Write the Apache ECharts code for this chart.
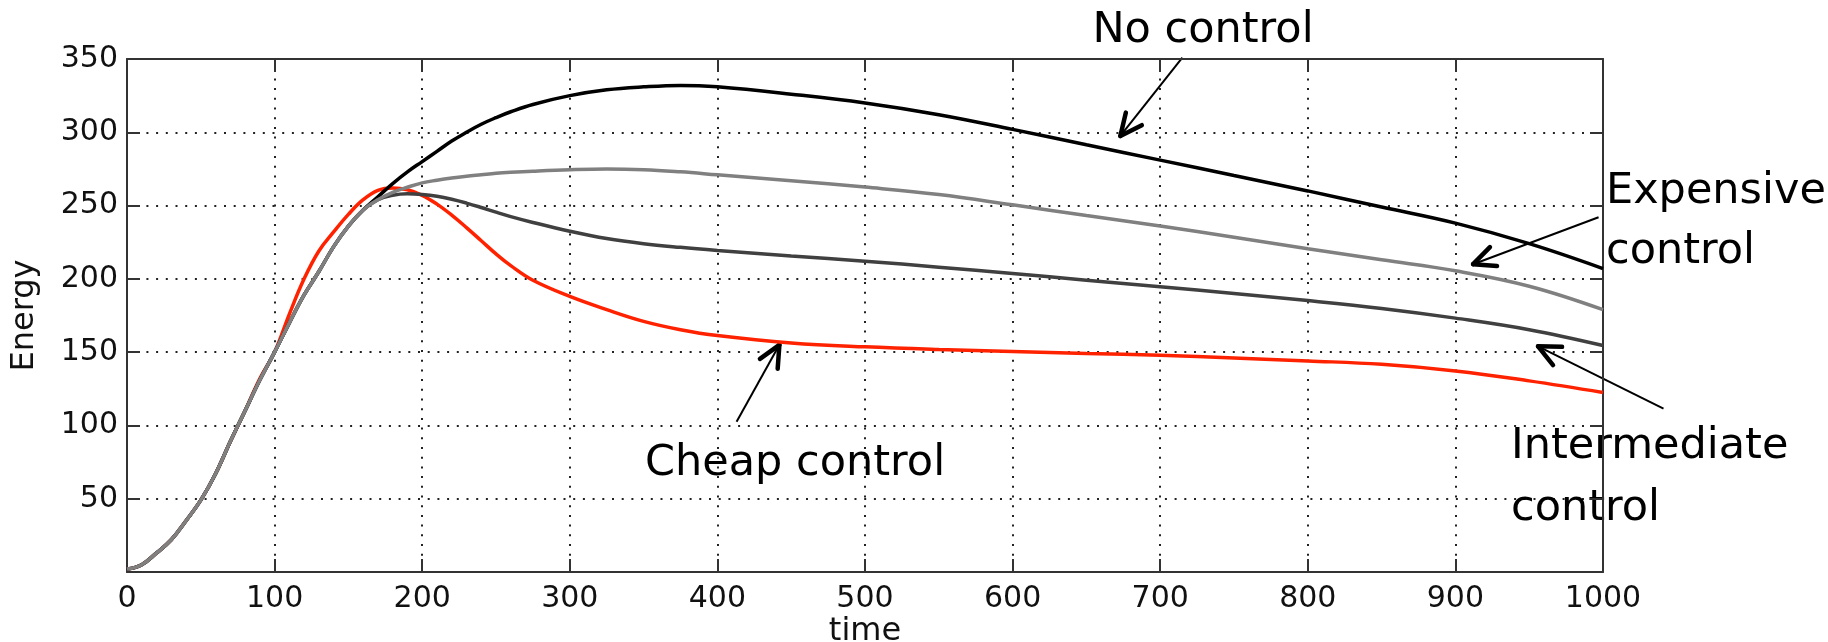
<!DOCTYPE html>
<html lang="en">
<head>
    <meta charset="UTF-8">
    <title>Energy vs time</title>
    <script src="https://cdn.jsdelivr.net/npm/echarts@6/dist/echarts.min.js"></script>
    <style>
        html, body { margin: 0; padding: 0; background: #fff; }
        #main { width: 1828px; height: 642px; }
    </style>
</head>
<body>
<div id="main"></div>
<script>
    // time samples shared by all curves
    var times = [0, 10, 20, 30, 40, 50, 60, 70, 80, 90, 100, 110, 120, 130, 140, 150, 160, 170, 180, 190, 200,
        210, 220, 230, 240, 250, 260, 275, 300, 325, 350, 375, 400, 450, 500, 550, 600, 650, 700, 750, 800, 850, 900, 950, 1000];

    var noControl = [2, 5, 13, 22, 35, 49, 67, 89, 110, 131, 150, 170, 189, 205, 222, 236, 247, 256, 265, 273, 280,
        287, 294, 300, 305.5, 310, 314, 319, 325, 329, 331, 332, 331, 326, 320, 312, 302, 291.5, 281, 270.5, 260, 249, 238, 224, 207];

    var expensive = [2, 5, 13, 22, 35, 49, 67, 89, 110, 131, 150, 170, 189, 205, 222, 236, 247, 254, 259, 262.5, 265.5,
        267.3, 268.8, 270, 271, 272, 272.7, 273.5, 274.5, 275, 274.5, 273, 271, 267, 262.6, 257.5, 250.5, 243.2, 236, 228.4, 220.6, 213, 205.5, 195, 179];

    var intermediate = [2, 5, 13, 22, 35, 49, 67, 89, 110, 131, 150, 170, 189, 205, 222, 236, 247, 254, 257, 258, 257.5,
        256.3, 254.3, 251.7, 248.7, 245.5, 242.5, 238.5, 232.5, 227.5, 224, 221.5, 219.4, 215.6, 212, 208, 203.6, 199.1, 194.6, 190, 185.2, 179.8, 173.2, 165.3, 154.5];

    var cheap = [2, 5, 13, 22, 35, 49, 67, 89, 110, 132, 150, 176, 200, 219, 232, 244, 254, 260.4, 262, 260.8, 257,
        251, 243.5, 235, 226, 217, 209, 199, 188, 179, 171, 165.3, 161.3, 156.3, 153.6, 151.8, 150.5, 149.1, 147.8, 146, 144, 141.7, 137.2, 130.4, 122.5];

    var xTicks = [0, 100, 200, 300, 400, 500, 600, 700, 800, 900, 1000];
    var yTicks = [0, 50, 100, 150, 200, 250, 300, 350];

    // annotation arrows: [fromTime, fromEnergy, toTime, toEnergy]
    var arrows = [
        [715, 351, 673, 297.5],
        [997, 242, 912, 210],
        [1041, 111.5, 956, 154],
        [413, 102.5, 442, 155]
    ];

    function pairs(ys) {
        var out = [];
        for (var i = 0; i < times.length; i++) {
            out.push([times[i], ys[i]]);
        }
        return out;
    }

    var myChart = echarts.init(document.getElementById('main'));
    var labelFont = { fontFamily: 'DejaVu Sans', fontSize: 30, color: '#111' };
    var frameLine = { show: true, onZero: false, lineStyle: { color: '#333', width: 2 } };
    var frameTick = { show: true, inside: true, length: 13, lineStyle: { color: '#333', width: 2 } };
    var dotGrid = { show: true, lineStyle: { color: '#222', width: 2, type: [2, 7.7] } };
    var plain = function (v) { return String(v); };

    var option = {
        animation: false,
        backgroundColor: '#fff',
        grid: { left: 127, right: 225, top: 59, bottom: 70, containLabel: false, outerBoundsMode: 'none' },
        xAxis: [
            {
                type: 'value',
                min: xTicks[0], max: xTicks[xTicks.length - 1], interval: 100,
                name: 'time', nameLocation: 'middle', nameGap: 44, nameMoveOverlap: false,
                nameTextStyle: { fontFamily: 'DejaVu Sans', fontSize: 32, color: '#111' },
                axisLine: frameLine,
                axisTick: frameTick,
                axisLabel: Object.assign({ margin: 12, formatter: plain }, labelFont),
                splitLine: dotGrid
            },
            {
                type: 'value', position: 'top',
                min: xTicks[0], max: xTicks[xTicks.length - 1], interval: 100,
                axisLine: frameLine, axisTick: frameTick,
                axisLabel: { show: false }, splitLine: { show: false }
            }
        ],
        yAxis: [
            {
                type: 'value',
                min: yTicks[0], max: yTicks[yTicks.length - 1], interval: 50,
                name: 'Energy', nameLocation: 'middle', nameGap: 86, nameMoveOverlap: false,
                nameTextStyle: { fontFamily: 'DejaVu Sans', fontSize: 32, color: '#111' },
                axisLine: frameLine,
                axisTick: frameTick,
                axisLabel: Object.assign({ margin: 9, showMinLabel: false, formatter: plain }, labelFont),
                splitLine: dotGrid
            },
            {
                type: 'value', position: 'right',
                min: yTicks[0], max: yTicks[yTicks.length - 1], interval: 50,
                axisLine: frameLine, axisTick: frameTick,
                axisLabel: { show: false }, splitLine: { show: false }
            }
        ],
        series: [
            { name: 'Cheap control', type: 'line', data: pairs(cheap), showSymbol: false, smooth: 0.4,
              lineStyle: { color: '#ff2200', width: 3.5 } },
            { name: 'No control', type: 'line', data: pairs(noControl), showSymbol: false, smooth: 0.4,
              lineStyle: { color: '#000000', width: 3.5 } },
            { name: 'Intermediate control', type: 'line', data: pairs(intermediate), showSymbol: false, smooth: 0.4,
              lineStyle: { color: '#404040', width: 3.5 } },
            { name: 'Expensive control', type: 'line', data: pairs(expensive), showSymbol: false, smooth: 0.4,
              lineStyle: { color: '#808080', width: 3.5 } }
        ]
    };
    myChart.setOption(option);

    // labels + arrows on top
    var noteFont = '43px "DejaVu Sans"';
    var graphics = [
        { type: 'text', x: 1203, y: 31, style: { text: 'No control', font: noteFont, fill: '#000', align: 'center', verticalAlign: 'middle' } },
        { type: 'text', x: 1606, y: 192, style: { text: 'Expensive', font: noteFont, fill: '#000', align: 'left', verticalAlign: 'middle' } },
        { type: 'text', x: 1606, y: 252, style: { text: 'control', font: noteFont, fill: '#000', align: 'left', verticalAlign: 'middle' } },
        { type: 'text', x: 1511, y: 447, style: { text: 'Intermediate', font: noteFont, fill: '#000', align: 'left', verticalAlign: 'middle' } },
        { type: 'text', x: 1511, y: 509, style: { text: 'control', font: noteFont, fill: '#000', align: 'left', verticalAlign: 'middle' } },
        { type: 'text', x: 645, y: 464, style: { text: 'Cheap control', font: noteFont, fill: '#000', align: 'left', verticalAlign: 'middle' } }
    ];
    arrows.forEach(function (a) {
        var p0 = myChart.convertToPixel({ gridIndex: 0 }, [a[0], a[1]]);
        var p1 = myChart.convertToPixel({ gridIndex: 0 }, [a[2], a[3]]);
        var ang = Math.atan2(p0[1] - p1[1], p0[0] - p1[0]);
        var len = 24, spread = 25 * Math.PI / 180;
        graphics.push({ type: 'line', shape: { x1: p0[0], y1: p0[1], x2: p1[0], y2: p1[1] },
            style: { stroke: '#000', lineWidth: 2 } });
        [-spread, spread].forEach(function (s) {
            graphics.push({ type: 'line',
                shape: { x1: p1[0], y1: p1[1], x2: p1[0] + len * Math.cos(ang + s), y2: p1[1] + len * Math.sin(ang + s) },
                style: { stroke: '#000', lineWidth: 4.5, lineCap: 'round' } });
        });
    });
    myChart.setOption({ graphic: graphics });
</script>
</body>
</html>
